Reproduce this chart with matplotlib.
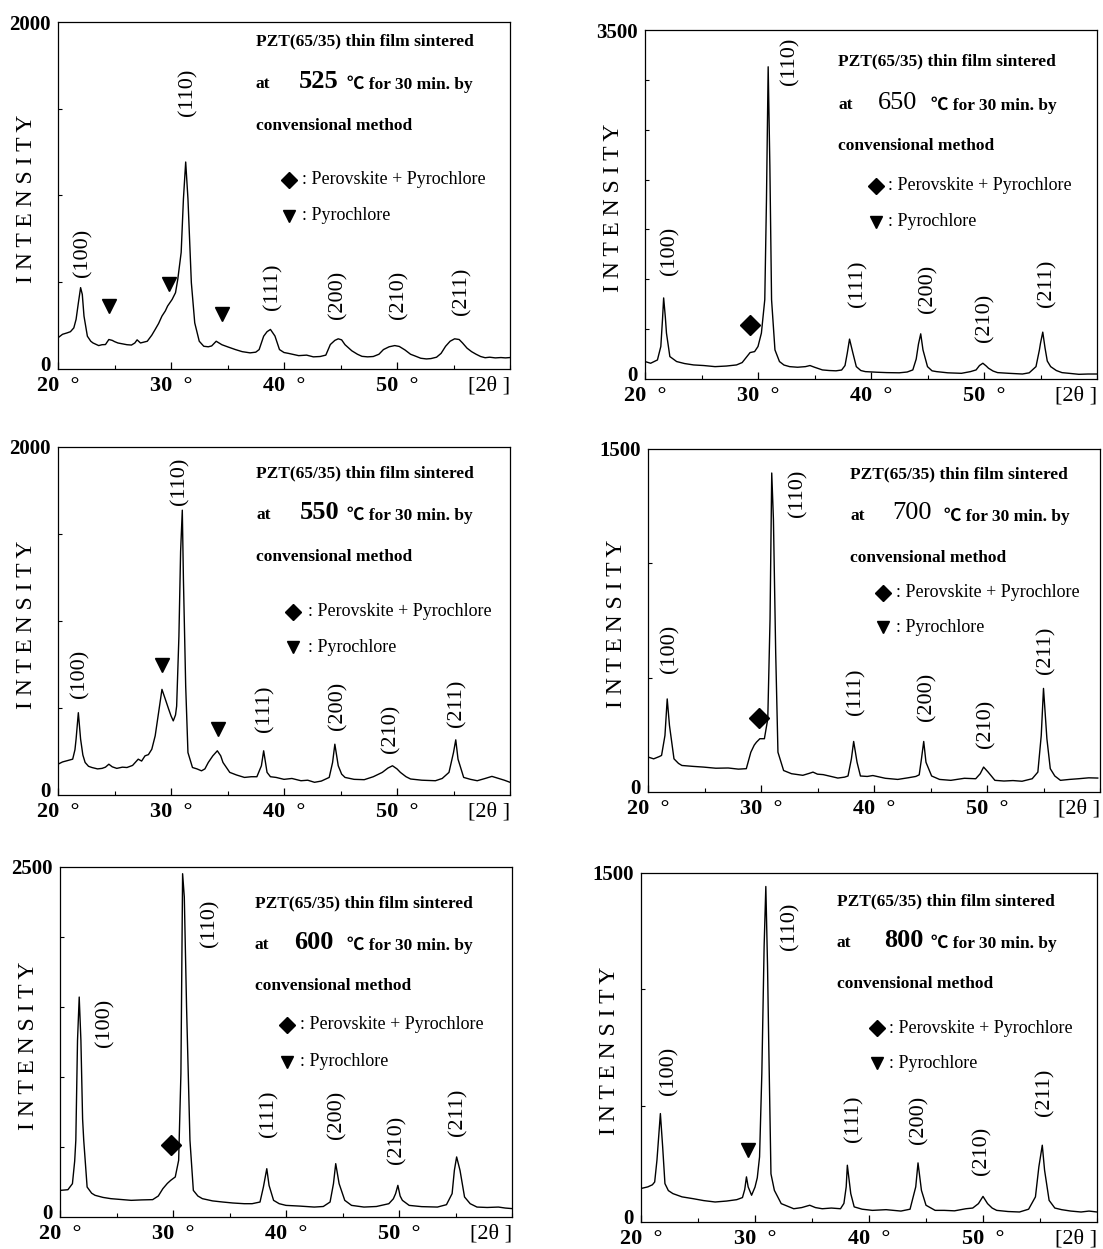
import numpy as np
import matplotlib
matplotlib.use("Agg")
import matplotlib.pyplot as plt
from matplotlib.ticker import MultipleLocator
from matplotlib.transforms import ScaledTranslation

# ---------------- data (2theta [deg], intensity) ----------------
pattern_525 = [(20.0,180),(20.4,200),(20.8,208),(21.1,215),(21.4,237),(21.6,286),(21.8,380),(22.0,469),(22.15,430),(22.3,305),(22.6,189),(22.9,160),(23.1,150),(23.6,135),(23.9,140),(24.2,141),(24.5,170),(24.8,165),(25.0,158),(25.3,150),(25.7,145),(26.1,140),(26.5,138),(26.8,150),(27.0,168),(27.3,150),(27.6,155),(27.9,160),(28.3,195),(28.6,228),(28.9,262),(29.2,305),(29.5,335),(29.7,363),(30.1,401),(30.4,440),(30.6,517),(30.9,672),(31.1,981),(31.3,1193),(31.5,981),(31.8,498),(32.1,266),(32.5,160),(32.9,131),(33.3,128),(33.6,133),(34.0,160),(34.5,140),(35.0,128),(35.7,112),(36.3,100),(37.0,93),(37.5,97),(37.8,112),(38.2,189),(38.5,215),(38.8,228),(39.2,190),(39.6,112),(40.0,95),(40.4,90),(41.3,77),(42.0,80),(42.6,70),(43.2,72),(43.7,80),(44.1,141),(44.5,165),(44.8,174),(45.1,168),(45.4,140),(46.0,105),(46.5,85),(46.9,73),(47.4,70),(47.9,72),(48.4,85),(48.8,112),(49.3,128),(49.8,135),(50.2,130),(50.7,110),(51.2,85),(51.6,75),(52.1,62),(52.6,58),(53.0,60),(53.5,68),(53.9,90),(54.3,131),(54.7,160),(55.1,174),(55.5,170),(55.8,150),(56.2,120),(56.6,100),(57.0,85),(57.4,72),(57.8,65),(58.2,68),(58.7,64),(59.2,66),(59.6,64),(60.0,66)]

pattern_650 = [(20.0,175),(20.5,158),(21.1,191),(21.4,326),(21.55,600),(21.65,813),(21.8,620),(21.9,460),(22.2,225),(22.8,175),(23.5,155),(24.3,141),(25.2,135),(26.2,124),(27.2,130),(28.1,141),(28.6,165),(28.9,208),(29.3,265),(29.7,275),(30.0,326),(30.3,460),(30.6,796),(30.75,1804),(30.9,3131),(31.05,2137),(31.2,796),(31.5,292),(31.9,175),(32.3,140),(32.8,124),(33.5,118),(34.2,124),(34.6,135),(35.0,118),(35.7,91),(36.3,85),(36.9,82),(37.4,90),(37.7,135),(37.9,259),(38.1,400),(38.4,259),(38.7,124),(39.1,85),(39.5,74),(40.5,68),(41.4,64),(42.5,62),(43.2,70),(43.7,91),(44.0,200),(44.2,350),(44.4,453),(44.6,292),(45.0,124),(45.4,82),(45.8,74),(46.8,62),(48.0,57),(48.8,74),(49.3,91),(49.6,135),(49.9,158),(50.2,130),(50.4,108),(50.8,80),(51.2,64),(52.2,57),(53.4,50),(54.0,62),(54.6,124),(54.9,290),(55.0,359),(55.2,470),(55.4,312),(55.6,180),(55.9,124),(56.4,85),(56.9,64),(57.7,55),(58.4,47),(59.2,50),(60.0,50)]

pattern_550 = [(20.0,177),(20.4,190),(20.8,197),(21.3,206),(21.5,260),(21.6,321),(21.8,473),(22.0,321),(22.2,230),(22.4,187),(22.7,165),(23.0,158),(23.5,150),(23.9,153),(24.2,160),(24.5,177),(24.8,162),(25.2,153),(25.7,160),(26.1,158),(26.6,170),(27.1,206),(27.4,195),(27.7,225),(28.0,232),(28.3,263),(28.6,340),(28.9,473),(29.2,607),(29.5,550),(29.8,492),(30.0,455),(30.2,426),(30.4,460),(30.5,511),(30.7,912),(30.85,1400),(31.0,1637),(31.1,1237),(31.3,626),(31.5,244),(31.9,158),(32.3,150),(32.7,139),(33.0,150),(33.3,187),(33.7,225),(34.1,254),(34.4,225),(34.6,187),(35.2,130),(35.8,115),(36.5,101),(37.1,105),(37.6,105),(38.0,168),(38.2,254),(38.5,130),(38.8,105),(39.3,101),(40.0,90),(40.7,95),(41.5,82),(42.1,85),(42.7,73),(43.3,80),(44.0,101),(44.3,187),(44.5,292),(44.8,168),(45.1,120),(45.4,101),(46.2,90),(47.1,88),(47.9,105),(48.7,130),(49.2,155),(49.6,168),(50.0,150),(50.3,130),(50.8,105),(51.2,92),(52.2,85),(53.4,82),(54.0,95),(54.6,130),(55.0,244),(55.2,317),(55.4,206),(55.9,101),(56.5,90),(57.1,82),(57.8,95),(58.4,107),(59.0,95),(59.5,85),(60.0,73)]

pattern_700 = [(20.0,153),(20.5,145),(21.0,155),(21.2,160),(21.5,247),(21.7,407),(21.9,291),(22.3,145),(22.7,125),(23.0,116),(24.0,112),(24.9,109),(26.0,104),(27.1,105),(28.0,100),(28.7,102),(29.1,174),(29.4,205),(29.6,218),(29.9,233),(30.3,233),(30.6,320),(30.8,756),(30.95,1395),(31.1,1192),(31.3,610),(31.5,174),(32.0,94),(32.7,80),(33.7,73),(34.3,82),(34.6,87),(35.0,78),(35.5,76),(36.2,68),(36.8,61),(37.4,65),(37.7,70),(38.0,145),(38.2,221),(38.5,130),(38.8,70),(39.4,68),(39.9,72),(41.0,60),(42.1,55),(43.0,62),(43.7,68),(44.0,75),(44.2,145),(44.4,221),(44.6,130),(45.1,70),(45.8,55),(46.8,51),(48.0,60),(49.0,58),(49.4,80),(49.7,109),(50.1,87),(50.7,51),(51.5,48),(52.3,50),(53.1,47),(54.0,58),(54.5,87),(54.8,247),(55.0,453),(55.3,233),(55.6,102),(56.0,70),(56.5,51),(57.3,55),(58.1,58),(59.0,62),(59.8,61)]

pattern_600 = [(20.0,190),(20.7,195),(21.1,238),(21.3,400),(21.4,548),(21.55,1262),(21.7,1571),(21.85,1262),(22.0,700),(22.1,548),(22.4,214),(22.8,170),(23.1,155),(23.8,140),(24.5,131),(25.4,125),(26.3,119),(27.2,122),(28.2,124),(28.7,150),(29.1,202),(29.5,240),(29.8,262),(30.2,286),(30.5,405),(30.7,1024),(30.85,2452),(31.0,2286),(31.2,1500),(31.5,548),(31.8,190),(32.2,150),(32.6,131),(33.5,115),(34.4,107),(35.3,100),(36.3,95),(37.0,95),(37.7,107),(38.0,214),(38.3,345),(38.5,226),(38.9,119),(39.4,95),(40.0,83),(41.2,78),(42.5,71),(43.3,75),(43.9,107),(44.2,238),(44.4,381),(44.7,238),(45.2,119),(45.8,83),(46.9,71),(48.0,75),(49.1,95),(49.5,130),(49.7,167),(49.9,226),(50.1,150),(50.3,119),(50.9,83),(52.0,74),(53.4,71),(54.2,88),(54.7,167),(54.9,333),(55.1,429),(55.4,333),(55.8,143),(56.3,95),(56.9,71),(57.8,68),(58.8,71),(59.4,64),(60.0,60)]

pattern_800 = [(20.0,144),(20.6,151),(21.0,160),(21.2,172),(21.4,266),(21.7,466),(21.9,323),(22.1,165),(22.4,135),(22.8,122),(23.6,108),(24.6,100),(25.5,92),(26.5,86),(27.5,90),(28.4,96),(28.9,105),(29.1,140),(29.25,194),(29.4,151),(29.7,115),(30.0,150),(30.2,190),(30.4,280),(30.6,639),(30.8,1184),(30.95,1442),(31.1,1100),(31.2,782),(31.4,207),(31.7,136),(32.3,79),(33.0,65),(33.4,57),(34.1,62),(34.8,72),(35.3,62),(35.9,57),(36.7,60),(37.5,57),(37.8,80),(38.0,151),(38.1,244),(38.4,122),(38.7,65),(39.4,55),(40.3,50),(41.5,53),(42.8,47),(43.6,55),(44.1,151),(44.3,254),(44.6,136),(45.0,72),(45.8,50),(46.6,50),(47.5,48),(48.5,57),(49.1,60),(49.6,79),(50.0,110),(50.4,79),(50.8,60),(51.2,50),(52.2,45),(53.2,43),(54.0,55),(54.6,108),(54.9,237),(55.2,330),(55.4,223),(55.8,93),(56.3,60),(56.9,53),(57.7,47),(58.6,43),(59.3,47),(60.0,43)]

temperatures = [525, 650, 550, 700, 600, 800]
y_max = {525: 2000, 650: 3500, 550: 2000, 700: 1500, 600: 2500, 800: 1500}
patterns = {525: pattern_525, 650: pattern_650, 550: pattern_550,
            700: pattern_700, 600: pattern_600, 800: pattern_800}

hkl_labels = ["(100)", "(110)", "(111)", "(200)", "(210)", "(211)"]
hkl_pos = {
    525: [(22.2, 672), (31.5, 1593), (39.0, 475), (44.8, 430), (50.2, 430), (55.7, 446)],
    650: [(22.2, 1283), (32.8, 3188), (38.8, 957), (45.0, 904), (50.1, 611), (55.6, 957)],
    550: [(21.9, 698), (30.8, 1803), (38.3, 496), (44.8, 515), (49.5, 382), (55.3, 525)],
    700: [(21.9, 625), (33.3, 1305), (38.4, 439), (44.7, 417), (49.9, 298), (55.2, 618)],
    600: [(24.0, 1386), (33.3, 2095), (38.5, 738), (44.5, 726), (49.8, 548), (55.2, 750)],
    800: [(22.4, 650), (33.1, 1270), (38.7, 445), (44.4, 438), (49.9, 306), (55.4, 557)],
}
pyrochlore_marks = {525: [(24.5, 363), (29.8, 488), (34.5, 315)],
                    550: [(29.2, 750), (34.2, 378)],
                    800: [(29.4, 311)]}
perov_pyro_marks = {650: [(29.3, 544)], 700: [(29.8, 323)], 600: [(29.8, 512)]}

# ---------------- layout ----------------
FW, FH = 1103, 1249
axes_px = {525: (58, 22, 510, 369), 650: (645, 30, 1097, 379),
           550: (58, 447, 510, 795), 700: (648, 449, 1100, 792),
           600: (60, 867, 512, 1217), 800: (641, 873, 1097, 1222)}
# x0, line ys, number centre x, degC x, legend marker x, legend ys, legend text x
text_lay = {
    525: (0.438, (0.944, 0.820, 0.700), 0.577, 0.640, 0.512, (0.545, 0.442), 0.540),
    650: (0.428, (0.909, 0.784, 0.669), 0.558, 0.633, 0.511, (0.554, 0.450), 0.538),
    550: (0.439, (0.924, 0.804, 0.685), 0.578, 0.639, 0.520, (0.527, 0.424), 0.553),
    700: (0.447, (0.925, 0.804, 0.683), 0.584, 0.654, 0.521, (0.581, 0.480), 0.549),
    600: (0.431, (0.895, 0.776, 0.660), 0.561, 0.634, 0.503, (0.550, 0.443), 0.532),
    800: (0.429, (0.919, 0.799, 0.682), 0.577, 0.635, 0.517, (0.555, 0.455), 0.544),
}
num_bold = {525: True, 650: False, 550: True, 700: False, 600: True, 800: True}

SERIF = ["Liberation Serif", "DejaVu Serif"]
SERIF_CJK = ["Liberation Serif", "Noto Sans CJK JP", "DejaVu Sans"]

fig = plt.figure(figsize=(FW / 100, FH / 100), dpi=100)
fig.patch.set_facecolor("white")

for t in temperatures:
    l, tp, r, b = axes_px[t]
    ax = fig.add_axes([l / FW, 1 - b / FH, (r - l) / FW, (b - tp) / FH])
    x, y = np.array(patterns[t], dtype=float).T
    ax.plot(x, y, color="black", lw=1.0)
    ymax = y_max[t]
    ax.set_xlim(20, 60)
    ax.set_ylim(0, ymax)
    for s in ax.spines.values():
        s.set_linewidth(0.9)

    # ticks
    ax.set_xticks([20, 30, 40, 50])
    ax.set_xticklabels([f"{v}  °" for v in [20, 30, 40, 50]], family=SERIF,
                       fontsize=16, fontweight="bold")
    ax.xaxis.set_minor_locator(MultipleLocator(5))
    ax.set_yticks([0, ymax])
    ax.set_yticklabels(["0", str(ymax)], family=SERIF, fontsize=15, fontweight="bold")
    ax.yaxis.set_minor_locator(MultipleLocator(500))
    ax.tick_params(axis="x", which="major", direction="in", length=5, width=0.9, pad=5)
    ax.tick_params(axis="x", which="minor", direction="in", length=3, width=0.8)
    ax.tick_params(axis="y", which="major", direction="in", length=0, pad=5)
    ax.tick_params(axis="y", which="minor", direction="in", length=3, width=0.8)
    zero_lab = ax.get_yticklabels()[0]
    zero_lab.set_transform(zero_lab.get_transform() +
                           ScaledTranslation(0, 4 / 72, fig.dpi_scale_trans))

    ax.text(1.0, -0.022, "[2θ ]", transform=ax.transAxes, ha="right", va="top",
            fontsize=16, family=SERIF)
    ax.text(-0.07, 0.49, "I N T E N S I T Y", transform=ax.transAxes, rotation=90,
            ha="center", va="center", fontsize=17, family=SERIF)

    # peak labels
    for lab, (lx, ly) in zip(hkl_labels, hkl_pos[t]):
        ax.text(lx, ly, lab, rotation=90, ha="center", va="center",
                fontsize=16, family=SERIF)

    # phase markers on curves
    for (mx, my) in pyrochlore_marks.get(t, []):
        ax.plot([mx], [my], marker="v", ms=9.5, color="black", ls="none")
    for (mx, my) in perov_pyro_marks.get(t, []):
        ax.plot([mx], [my], marker="D", ms=10, color="black", ls="none")

    # annotation text block
    x0, (y1, y2, y3), xn, xc, xm, (ym1, ym2), xt = text_lay[t]
    ax.text(x0, y1, "PZT(65/35) thin film sintered", transform=ax.transAxes,
            ha="left", va="center", fontsize=12.5, fontweight="bold", family=SERIF)
    ax.text(x0, y2, "at", transform=ax.transAxes, ha="left", va="center",
            fontsize=12.5, fontweight="bold", family=SERIF)
    ax.text(xn, y2 + 0.008, str(t), transform=ax.transAxes, ha="center", va="center",
            fontsize=19, fontweight="bold" if num_bold[t] else "normal", family=SERIF)
    ax.text(xc, y2, "℃ for 30 min. by", transform=ax.transAxes, ha="left",
            va="center", fontsize=12.5, fontweight="bold", family=SERIF_CJK)
    ax.text(x0, y3, "convensional method", transform=ax.transAxes, ha="left",
            va="center", fontsize=12.5, fontweight="bold", family=SERIF)
    ax.plot([xm], [ym1], marker="D", ms=8, color="black", transform=ax.transAxes,
            clip_on=False, ls="none")
    ax.plot([xm], [ym2], marker="v", ms=8, color="black", transform=ax.transAxes,
            clip_on=False, ls="none")
    ax.text(xt, ym1, ": Perovskite + Pyrochlore", transform=ax.transAxes, ha="left",
            va="center", fontsize=13, family=SERIF)
    ax.text(xt, ym2, ": Pyrochlore", transform=ax.transAxes, ha="left",
            va="center", fontsize=13, family=SERIF)

fig.savefig("out.png", dpi=100, facecolor="white")
